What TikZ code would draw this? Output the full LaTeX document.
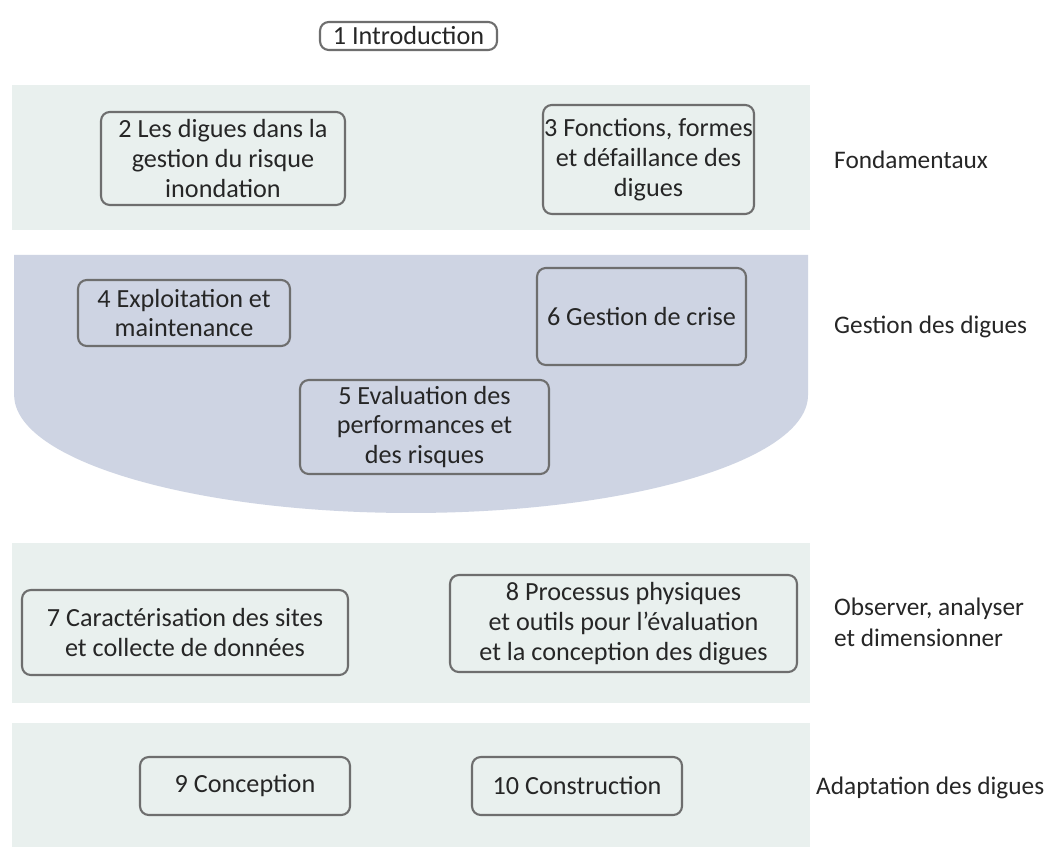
\documentclass[tikz,border=0pt]{standalone}
\usepackage{fontspec}
\setmainfont{Carlito}
\definecolor{bandlight}{HTML}{E9F0EE}
\definecolor{bandblue}{HTML}{CED4E3}
\definecolor{edge}{HTML}{6E6E6E}
\definecolor{ink}{HTML}{262626}
\begin{document}
\begin{tikzpicture}[x=0.02cm, y=-0.02cm,
  every node/.style={text=ink},
  chapter/.style={draw=edge, line width=1.2pt, rounded corners=5pt,
    align=center, inner xsep=0pt, inner ysep=2pt,
    font=\fontsize{14.9}{17}\selectfont},
  band/.style={fill=bandlight, draw=none},
  tag/.style={anchor=west, align=left, font=\fontsize{14.4}{17.6}\selectfont}]
\useasboundingbox (0,0) rectangle (1050,847);
\fill[white] (0,0) rectangle (1050,847);

% background bands
\fill[band] (12,85) rectangle (810,230);
\fill[bandblue] (14,255) -- (808,255) -- (808,395)
  arc[start angle=0, end angle=-180, x radius=7.94cm, y radius=2.36cm] -- cycle;
\fill[band] (12,543) rectangle (810,703);
\fill[band] (12,723) rectangle (810,847);

% chapters
\node[chapter, fill=white, minimum width=3.54cm, minimum height=0.56cm] (c1) at (408.5,36) {1 Introduction};
\node[chapter, minimum width=4.88cm, minimum height=1.86cm] (c2) at (223,158.5) {2 Les digues dans la\\gestion du risque\\inondation};
\node[chapter, minimum width=4.22cm, minimum height=2.18cm] (c3) at (648.5,159.5) {3 Fonctions, formes\\et défaillance des\\digues};
\node[chapter, minimum width=4.24cm, minimum height=1.32cm] (c4) at (184,313) {4 Exploitation et\\maintenance};
\node[chapter, minimum width=4.18cm, minimum height=1.94cm] (c6) at (641.5,316.5) {6 Gestion de crise};
\node[chapter, minimum width=4.98cm, minimum height=1.88cm] (c5) at (424.5,427) {5 Evaluation des\\performances et\\des risques};
\node[chapter, minimum width=6.52cm, minimum height=1.70cm] (c7) at (185,632.5) {7 Caractérisation des sites\\et collecte de données};
\node[chapter, minimum width=6.94cm, minimum height=1.94cm] (c8) at (623.5,623.5) {8 Processus physiques\\et outils pour l’évaluation\\et la conception des digues};
\node[chapter, minimum width=4.2cm, minimum height=1.16cm] (c9) at (245,786) {9 Conception};
\node[chapter, minimum width=4.2cm, minimum height=1.16cm] (c10) at (577,786) {10 Construction};

% part labels
\node[tag] (p1) at (828,160) {Fondamentaux};
\node[tag] (p2) at (828,327) {Gestion des digues};
\node[tag] (p3) at (828,622.5) {Observer, analyser\\et dimensionner};
\node[tag] (p4) at (810,788) {Adaptation des digues};
\end{tikzpicture}
\end{document}
